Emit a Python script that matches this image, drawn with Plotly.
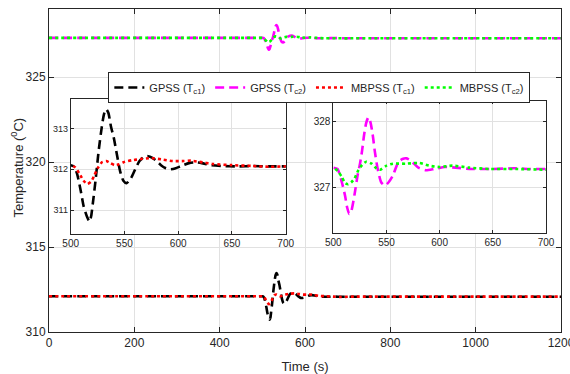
import plotly.graph_objects as go

# ---------------- data ----------------
t_gpss_c1 = [0, 250, 490, 500, 503, 506, 509.5, 512, 515, 517.5, 519, 520.5, 523, 526, 529, 531, 533,
             535, 537.5, 540, 542, 546, 549, 552, 556, 560, 564, 568, 572, 576, 580, 584, 588, 592,
             597, 603, 610, 616, 622, 630, 640, 655, 670, 685, 700, 710, 950, 1200]
T_gpss_c1 = [312.1, 312.1, 312.1, 312.1, 312.07, 311.88, 311.45, 311.1, 310.85, 310.72, 310.85, 311.15,
             311.7, 312.45, 313.05, 313.35, 313.47, 313.38, 313.04, 312.78, 312.5, 311.95, 311.72,
             311.66, 311.78, 312.0, 312.2, 312.3, 312.32, 312.28, 312.2, 312.1, 312.03, 312.0, 312.02,
             312.08, 312.15, 312.17, 312.15, 312.1, 312.08, 312.07, 312.08, 312.07, 312.07, 312.07,
             312.07, 312.07]

t_gpss_c2 = [0, 250, 490, 500, 504, 508, 511, 513, 515, 517, 520, 523, 525, 527, 529, 531, 533, 535, 537,
             539, 541.5, 545, 548.5, 552, 556, 561, 565, 569, 574, 580, 587, 595, 605, 615, 630, 650,
             670, 685, 700, 710, 950, 1200]
T_gpss_c2 = [327.3, 327.3, 327.3, 327.3, 327.28, 327.08, 326.88, 326.7, 326.6, 326.65, 326.9, 327.2,
             327.35, 327.55, 327.8, 327.98, 328.06, 327.98, 327.8, 327.55, 327.3, 327.08, 327.03,
             327.08, 327.18, 327.38, 327.43, 327.44, 327.39, 327.3, 327.26, 327.28, 327.31, 327.3,
             327.28, 327.28, 327.29, 327.28, 327.28, 327.28, 327.28, 327.28]

t_mbpss_c1 = [0, 250, 490, 500, 504, 508, 512, 515.5, 519, 522, 525, 529, 533, 537, 541, 545, 550, 557,
              565, 575, 585, 595, 605, 612, 620, 632, 650, 669, 685, 700, 710, 950, 1200]
T_mbpss_c1 = [312.1, 312.1, 312.1, 312.1, 312.05, 311.9, 311.72, 311.64, 311.7, 311.85, 312.02, 312.17,
              312.2, 312.15, 312.1, 312.12, 312.18, 312.22, 312.25, 312.27, 312.24, 312.2, 312.2,
              312.21, 312.18, 312.13, 312.1, 312.08, 312.06, 312.07, 312.08, 312.08, 312.08]

t_mbpss_c2 = [0, 250, 490, 500, 504, 508, 511, 514, 517, 520, 523.5, 527, 531, 536, 540.5, 544, 550,
              556, 568, 581, 590, 600, 612, 628, 647, 672, 697, 700, 710, 950, 1200]
T_mbpss_c2 = [327.3, 327.3, 327.3, 327.3, 327.25, 327.16, 327.07, 327.05, 327.08, 327.14, 327.26,
              327.34, 327.39, 327.36, 327.29, 327.27, 327.33, 327.36, 327.36, 327.37, 327.33, 327.31,
              327.33, 327.3, 327.28, 327.28, 327.27, 327.27, 327.28, 327.28, 327.28]

names = ["GPSS (T<sub>c1</sub>)", "GPSS (T<sub>c2</sub>)", "MBPSS (T<sub>c1</sub>)", "MBPSS (T<sub>c2</sub>)"]
main_xticks = [0, 200, 400, 600, 800, 1000, 1200]
main_yticks = [310, 315, 320, 325]
inset_xticks = [500, 550, 600, 650, 700]
inset1_yticks = [311, 312, 313]
inset2_yticks = [327, 328]

# ---------------- styles ----------------
FONT = "Arial"
TXT = "#262626"
GRID = "#e1e1e1"
DASH = "9px,5px"
styles = [
    dict(color="black", width=2.6, dash=DASH),
    dict(color="#ff00ff", width=2.6, dash=DASH),
    dict(color="#ff0000", width=2.6, dash="dot"),
    dict(color="#00ff00", width=2.6, dash="dot"),
]
series = [(t_gpss_c1, T_gpss_c1), (t_gpss_c2, T_gpss_c2), (t_mbpss_c1, T_mbpss_c1), (t_mbpss_c2, T_mbpss_c2)]

fig = go.Figure()
for i, ((tx, ty), st, nm) in enumerate(zip(series, styles, names)):
    fig.add_trace(go.Scatter(x=tx, y=ty, mode="lines", line=dict(shape="spline", smoothing=0.6, **st),
                             name=nm, xaxis="x", yaxis="y", showlegend=True))
for idx in (0, 2):
    tx, ty = series[idx]
    fig.add_trace(go.Scatter(x=tx, y=ty, mode="lines", line=dict(shape="spline", smoothing=0.6, **styles[idx]),
                             xaxis="x2", yaxis="y2", showlegend=False))
for idx in (1, 3):
    tx, ty = series[idx]
    fig.add_trace(go.Scatter(x=tx, y=ty, mode="lines", line=dict(shape="spline", smoothing=0.6, **styles[idx]),
                             xaxis="x3", yaxis="y3", showlegend=False))

def ax(**kw):
    base = dict(showline=True, linecolor=TXT, linewidth=1, mirror="ticks", ticks="inside",
                tickcolor=TXT, showgrid=True, gridcolor=GRID, gridwidth=1, zeroline=False,
                automargin=False, ticklabeloverflow="allow")
    base.update(kw)
    return base

fig.update_layout(
    width=570, height=374,
    margin=dict(l=49, r=9, t=9, b=42, autoexpand=False),
    paper_bgcolor="white", plot_bgcolor="white",
    font=dict(family=FONT, color=TXT, size=12),
    xaxis=ax(domain=[0, 1], range=[0, 1200], tickvals=main_xticks, ticklen=5,
             tickfont=dict(size=12),
             title=dict(text="Time (s)", font=dict(size=13), standoff=15)),
    yaxis=ax(domain=[0, 1], range=[310, 329], tickvals=main_yticks, ticklen=5,
             tickfont=dict(size=12)),
    xaxis2=ax(domain=[0.0424, 0.4623], range=[500, 700], tickvals=inset_xticks, ticklen=3, anchor="y2",
              tickfont=dict(size=10)),
    yaxis2=ax(domain=[0.3025, 0.7204], range=[310.41, 313.71], tickvals=inset1_yticks, ticklen=3, anchor="x2",
              tickfont=dict(size=9)),
    xaxis3=ax(domain=[0.5553, 0.9707], range=[500, 700], tickvals=inset_xticks, ticklen=3, anchor="y3",
              tickfont=dict(size=10)),
    yaxis3=ax(domain=[0.3056, 0.7161], range=[326.31, 328.31], tickvals=inset2_yticks, ticklen=3, anchor="x3",
              tickfont=dict(size=10)),
    legend=dict(orientation="h", x=0.528, xanchor="center", y=0.757, yanchor="middle",
                bgcolor="white", bordercolor=TXT, borderwidth=1, itemwidth=30,
                font=dict(size=11), tracegroupgap=0),
    annotations=[dict(text="Temperature (<sup>0</sup>C)", textangle=-90, xref="paper", yref="paper",
                      x=-0.0625, y=0.509, xanchor="center", yanchor="middle", showarrow=False,
                      font=dict(size=13))],
    showlegend=True,
)

fig.write_html("out.html")
